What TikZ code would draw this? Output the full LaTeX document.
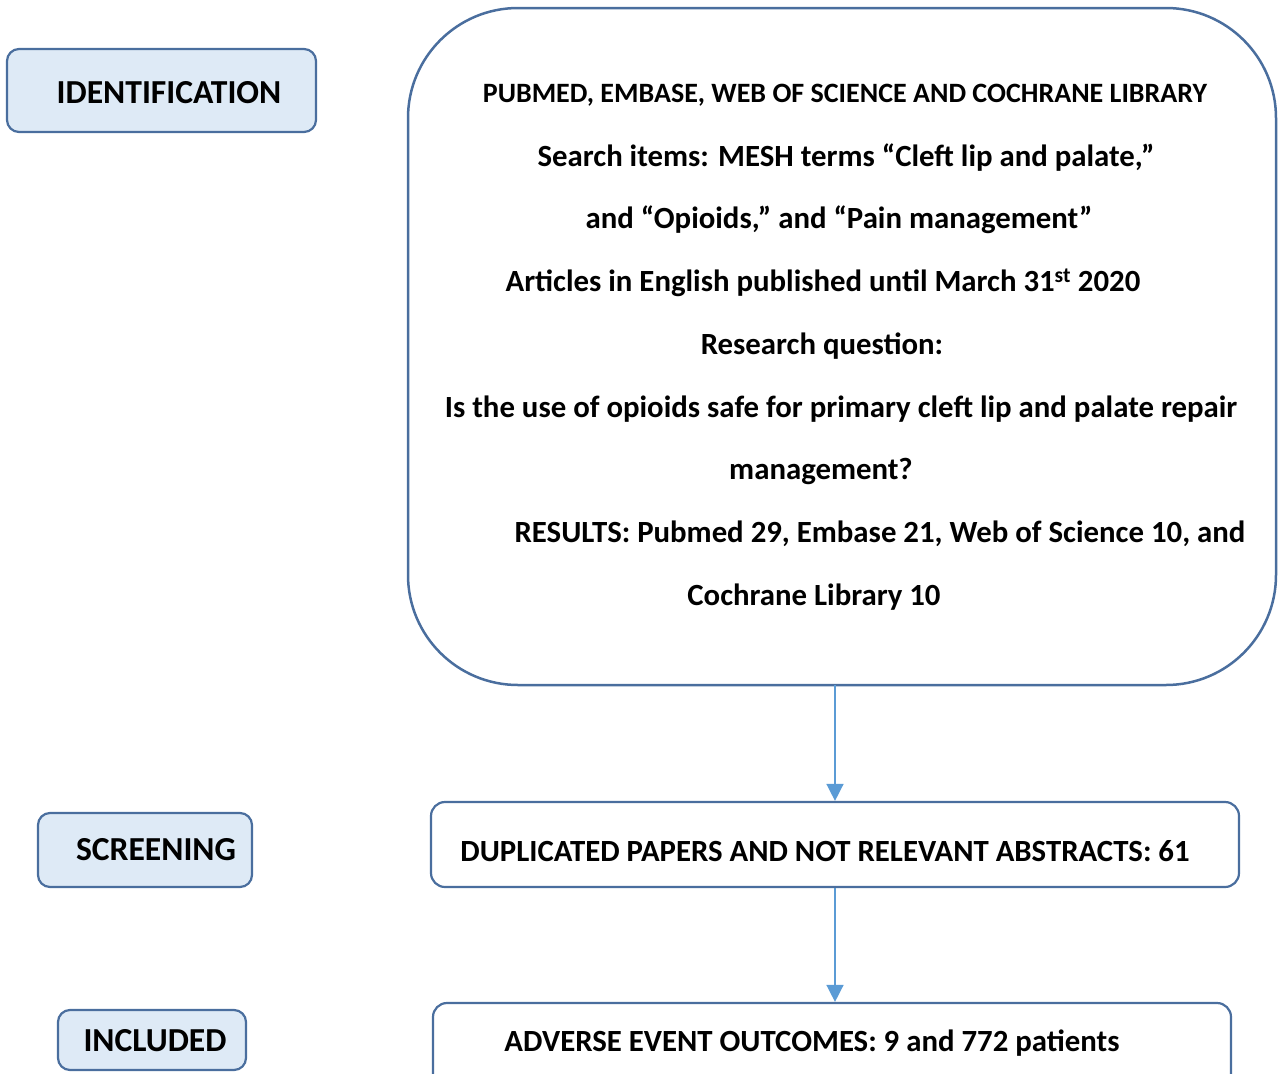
\documentclass[tikz,border=0pt]{standalone}
\usepackage{fontspec}
\setmainfont{Carlito}
\usetikzlibrary{arrows.meta}
\definecolor{edgeblue}{HTML}{4A6E9E}
\definecolor{fillblue}{HTML}{DEEAF6}
\definecolor{arrowblue}{HTML}{5B9BD5}
\tikzset{
  labelbox/.style={draw=edgeblue, fill=fillblue, line width=2.2pt, rounded corners=12pt, inner sep=0pt},
  mainbox/.style={draw=edgeblue, fill=white, line width=2.2pt, rounded corners=14pt, inner sep=0pt},
  txt/.style={inner sep=0pt, font=\fontsize{30.8}{36}\selectfont\bfseries},
  txtcaps/.style={inner sep=0pt, font=\fontsize{28}{33}\selectfont\bfseries},
  lbl/.style={inner sep=0pt, font=\fontsize{33.6}{38}\selectfont\bfseries},
  flow/.style={draw=arrowblue, line width=1.5pt, -{Triangle[width=17pt,length=17pt]}}
}
\begin{document}
\begin{tikzpicture}[x=1pt,y=-1pt]
\useasboundingbox (0,0) rectangle (1278,1074);
\clip (0,0) rectangle (1278,1074);
% left label boxes
\node[labelbox, minimum width=309pt, minimum height=83pt] (ident) at (161.5,90.5) {};
\node[lbl] (identt) at (169,93) {IDENTIFICATION};
\node[labelbox, minimum width=214pt, minimum height=74pt] (screen) at (145,850) {};
\node[lbl] (screent) at (156,850) {SCREENING};
\node[labelbox, minimum width=188pt, minimum height=60pt] (incl) at (152,1040) {};
\node[lbl] (inclt) at (155,1041) {INCLUDED};
% big box
\draw[edgeblue, line width=2.5pt, rounded corners=110pt] (408,8) rectangle (1276,685);
\coordinate (bigbot) at (835,685);
\node[txtcaps] (l1) at (845,95) {PUBMED, EMBASE, WEB OF SCIENCE AND COCHRANE LIBRARY};
\node[txt] (l2) at (846,158) {Search items: MESH terms “Cleft lip and palate,”};
\node[txt] (l3) at (839,220) {and “Opioids,” and “Pain management”};
\node[txt] (l4) at (823,283) {Articles in English published until March 31\textsuperscript{st} 2020};
\node[txt] (l5) at (822,346) {Research question:};
\node[txt] (l6) at (841,409) {Is the use of opioids safe for primary cleft lip and palate repair};
\node[txt] (l7) at (821,471) {management?};
\node[txt] (l8) at (880,534) {RESULTS: Pubmed 29, Embase 21, Web of Science 10, and};
\node[txt] (l9) at (814,597) {Cochrane Library 10};
% flow boxes
\node[mainbox, minimum width=808pt, minimum height=85pt] (dup) at (835,844.5) {};
\node[txt] (dupt) at (825,851) {DUPLICATED PAPERS AND NOT RELEVANT ABSTRACTS: 61};
\node[mainbox, minimum width=798pt, minimum height=100pt] (adv) at (832,1053) {};
\node[txt] (advt) at (812,1043) {ADVERSE EVENT OUTCOMES: 9 and 772 patients};
% arrows
\draw[flow] (bigbot) -- (dup.north);
\draw[flow] (dup.south) -- (dup.south |- adv.north);
\end{tikzpicture}
\end{document}
